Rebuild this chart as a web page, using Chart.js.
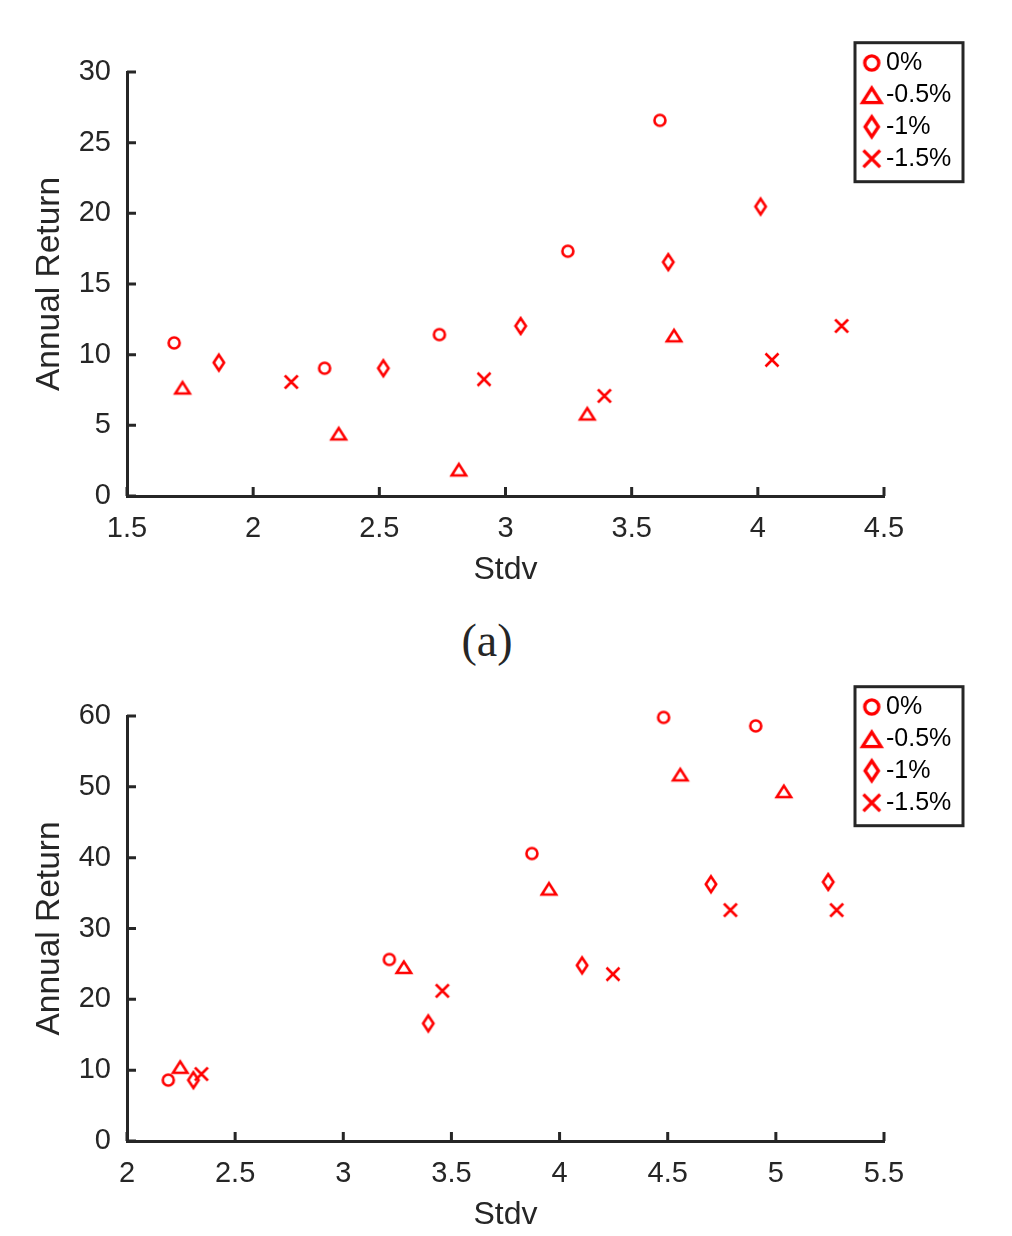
<!DOCTYPE html>
<html>
<head>
<meta charset="utf-8">
<script src="https://cdn.jsdelivr.net/npm/chart.js@4/dist/chart.umd.min.js"></script>
<style>
  body { margin: 0; background: #fff; overflow: hidden; }
  #wrap { position: relative; width: 1012px; height: 1236px; }
  canvas { position: absolute; left: 0; }
  #top-chart { top: 0; }
  #bottom-chart { top: 644px; }
  #caption {
    position: absolute; left: 387px; width: 200px; top: 614px;
    text-align: center; font-family: "Liberation Serif", serif; font-size: 46px;
    line-height: 54px; color: #262626;
  }
</style>
</head>
<body>
<div id="wrap">
  <canvas id="top-chart" width="1012" height="600"></canvas>
  <div id="caption">(a)</div>
  <canvas id="bottom-chart" width="1012" height="592"></canvas>
</div>
<script>
// series names
const seriesLabels = ['0%', '-0.5%', '-1%', '-1.5%'];

// panel (a): stdv vs annual return
const topX0 = [1.687, 2.283, 2.738, 3.247, 3.612];
const topY0 = [10.83, 9.04, 11.42, 17.32, 26.58];
const topX1 = [1.72, 2.339, 2.815, 3.324, 3.668];
const topY1 = [7.68, 4.43, 1.88, 5.84, 11.37];
const topX2 = [1.864, 2.516, 3.06, 3.645, 4.011];
const topY2 = [9.44, 9.04, 12.03, 16.55, 20.48];
const topX3 = [2.151, 2.915, 3.392, 4.056, 4.332];
const topY3 = [8.07, 8.26, 7.08, 9.63, 12.03];
const topXTicks = [1.5, 2, 2.5, 3, 3.5, 4, 4.5];
const topYTicks = [0, 5, 10, 15, 20, 25, 30];

// lower panel
const botX0 = [2.191, 3.213, 3.872, 4.481, 4.907];
const botY0 = [8.6, 25.63, 40.58, 59.8, 58.6];
const botX1 = [2.246, 3.28, 3.951, 4.558, 5.037];
const botY1 = [10.48, 24.58, 35.64, 51.76, 49.4];
const botX2 = [2.307, 3.393, 4.104, 4.7, 5.242];
const botY2 = [8.6, 16.6, 24.8, 36.25, 36.57];
const botX3 = [2.344, 3.458, 4.247, 4.79, 5.281];
const botY3 = [9.45, 21.2, 23.55, 32.6, 32.6];
const botXTicks = [2, 2.5, 3, 3.5, 4, 4.5, 5, 5.5];
const botYTicks = [0, 10, 20, 30, 40, 50, 60];

const RED = '#ff0000';
const AXIS = '#262626';
const FONT = '"Liberation Sans", Arial, sans-serif';

// marker images (matlab style: o ^ d x)
function makeMarker(kind, s) {
    const c = document.createElement('canvas');
    c.width = Math.ceil(26 * s);
    c.height = Math.ceil(26 * s);
    const g = c.getContext('2d');
    g.translate(c.width / 2, c.height / 2);
    g.scale(s, s);
    g.strokeStyle = RED;
    g.lineWidth = 2.6;
    g.lineJoin = 'miter';
    g.beginPath();
    if (kind === 'circle') {
        g.arc(0, 0, 5.5, 0, Math.PI * 2);
    } else if (kind === 'triangle') {
        g.moveTo(0, -5.4);
        g.lineTo(7.2, 6.0);
        g.lineTo(-7.2, 6.0);
        g.closePath();
    } else if (kind === 'diamond') {
        g.moveTo(0, -7.8);
        g.lineTo(5.2, 0);
        g.lineTo(0, 7.8);
        g.lineTo(-5.2, 0);
        g.closePath();
    } else {
        g.moveTo(-6.5, -6.5); g.lineTo(6.5, 6.5);
        g.moveTo(6.5, -6.5); g.lineTo(-6.5, 6.5);
    }
    g.stroke();
    return c;
}

const kinds = ['circle', 'triangle', 'diamond', 'cross'];
const plotMarkers = kinds.map(k => makeMarker(k, 1));
const legendMarkers = kinds.map(k => makeMarker(k, 1.28));

// inward tick marks, drawn off the library's scales
const innerTicks = {
    id: 'innerTicks',
    afterDatasetsDraw(chart) {
        const ctx = chart.ctx;
        const xs = chart.scales.x, ys = chart.scales.y;
        const a = chart.chartArea;
        ctx.save();
        ctx.strokeStyle = AXIS;
        ctx.lineWidth = 3;
        ctx.beginPath();
        xs.ticks.forEach(t => {
            const px = xs.getPixelForValue(t.value);
            ctx.moveTo(px, a.bottom);
            ctx.lineTo(px, a.bottom - 9);
        });
        ys.ticks.forEach(t => {
            const py = ys.getPixelForValue(t.value);
            ctx.moveTo(a.left, py);
            ctx.lineTo(a.left + 9, py);
        });
        ctx.stroke();
        ctx.restore();
    }
};

// boxed legend in the top right corner
const boxLegend = {
    id: 'boxLegend',
    afterDraw(chart) {
        const ctx = chart.ctx;
        const a = chart.chartArea;
        const x = a.right - 29, y = a.top - 29.3;
        const w = 108, h = 139;
        ctx.save();
        ctx.fillStyle = '#fff';
        ctx.fillRect(x, y, w, h);
        ctx.strokeStyle = AXIS;
        ctx.lineWidth = 3;
        ctx.strokeRect(x, y, w, h);
        ctx.font = '25px ' + FONT;
        ctx.textBaseline = 'middle';
        ctx.fillStyle = '#000';
        chart.data.datasets.forEach((ds, i) => {
            const cy = y + 20.3 + i * 31.9;
            const m = legendMarkers[i];
            ctx.drawImage(m, x + 16.7 - m.width / 2, cy - m.height / 2);
            ctx.fillText(ds.label, x + 31, cy);
        });
        ctx.restore();
    }
};

function toPoints(xs, ys) {
    return xs.map((x, i) => ({ x: x, y: ys[i] }));
}

function makeChart(id, xsList, ysList, xTicks, yTicks, opt) {
    const datasets = seriesLabels.map((label, i) => ({
        label: label,
        data: toPoints(xsList[i], ysList[i]),
        pointStyle: plotMarkers[i],
        pointRadius: 6,
        pointHoverRadius: 6,
        borderColor: RED,
        backgroundColor: RED
    }));
    const tickOpts = {
        color: AXIS,
        padding: 16,
        font: { family: FONT, size: 29 },
        autoSkip: false,
        callback: v => String(v)
    };
    return new Chart(document.getElementById(id), {
        type: 'scatter',
        data: { datasets: datasets },
        options: {
            responsive: false,
            animation: false,
            events: [],
            clip: false,
            layout: { padding: { left: 0, right: 128, top: opt.padTop, bottom: 0 } },
            plugins: { legend: { display: false }, tooltip: { enabled: false } },
            scales: {
                x: {
                    type: 'linear',
                    min: xTicks[0],
                    max: xTicks[xTicks.length - 1],
                    afterBuildTicks: s => { s.ticks = xTicks.map(v => ({ value: v })); },
                    grid: { display: false, drawTicks: false },
                    border: { color: AXIS, width: 3 },
                    ticks: tickOpts,
                    title: {
                        display: true, text: 'Stdv', color: AXIS,
                        font: { family: FONT, size: 32 },
                        padding: { top: 0, bottom: opt.xTitlePad }
                    },
                    afterFit: s => { s.height = opt.xHeight; }
                },
                y: {
                    type: 'linear',
                    min: yTicks[0],
                    max: yTicks[yTicks.length - 1],
                    afterBuildTicks: s => { s.ticks = yTicks.map(v => ({ value: v })); },
                    grid: { display: false, drawTicks: false },
                    border: { color: AXIS, width: 3 },
                    ticks: tickOpts,
                    title: {
                        display: true, text: 'Annual Return', color: AXIS,
                        font: { family: FONT, size: 33.5 },
                        padding: { top: 30, bottom: 0 }
                    },
                    afterFit: s => { s.width = 127; }
                }
            }
        },
        plugins: [innerTicks, boxLegend]
    });
}

makeChart('top-chart',
    [topX0, topX1, topX2, topX3], [topY0, topY1, topY2, topY3],
    topXTicks, topYTicks,
    { padTop: 72, xHeight: 104, xTitlePad: 11 });

makeChart('bottom-chart',
    [botX0, botX1, botX2, botX3], [botY0, botY1, botY2, botY3],
    botXTicks, botYTicks,
    { padTop: 72, xHeight: 95, xTitlePad: 2 });
</script>
</body>
</html>
